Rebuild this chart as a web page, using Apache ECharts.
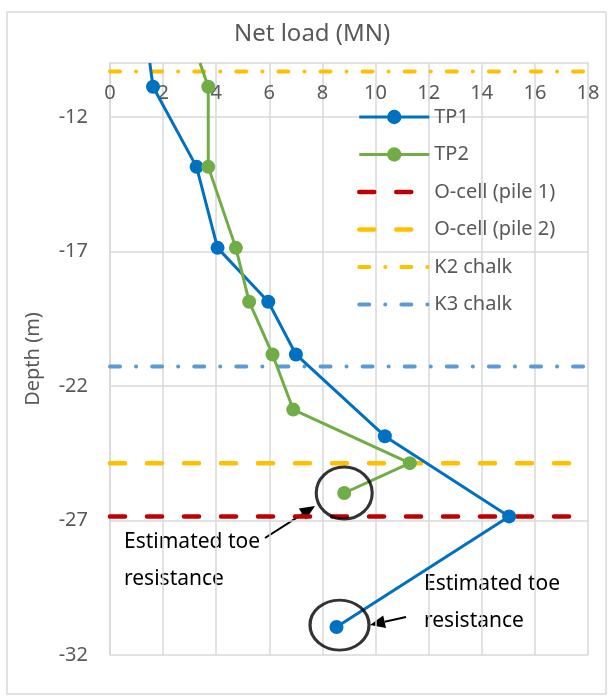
<!DOCTYPE html>
<html>
<head>
<meta charset="utf-8">
<script src="https://cdn.jsdelivr.net/npm/echarts@6/dist/echarts.min.js"></script>
<style>
  html, body { margin: 0; padding: 0; background: #fff; }
  #chart { width: 613px; height: 700px; }
</style>
</head>
<body>
<div id="chart"></div>
<script>
// test pile 1 / test pile 2: net load (MN) against depth (m)
const tp1Load = [1.5, 1.62, 3.26, 4.05, 5.96, 7.0, 10.35, 15.03, 8.53]
const tp1Depth = [-10.0, -10.88, -13.86, -16.87, -18.87, -20.83, -23.87, -26.85, -30.96]
const tp2Load = [3.39, 3.7, 3.7, 4.74, 5.24, 6.12, 6.9, 11.29, 8.82]
const tp2Depth = [-10.0, -10.88, -13.86, -16.87, -18.87, -20.83, -22.88, -24.87, -25.98]

// horizontal reference levels (m)
const levelNames = ['O-cell (pile 1)', 'O-cell (pile 2)', 'K2 chalk', 'K3 chalk']
const levelDepths = [-26.85, -24.87, -10.32, -21.28]

// estimated toe resistance points (circled)
const toeLoad = [8.82, 8.53]
const toeDepth = [-25.98, -30.96]

const xTicks = [0, 2, 4, 6, 8, 10, 12, 14, 16, 18]
const yTicks = [-32, -27, -22, -17, -12]

const FONT = 'Noto Sans'
const GREY = '#595959'
const GRID = '#D9D9D9'

const chart = echarts.init(document.getElementById('chart'))

const pairs = (xs, ys) => xs.map((x, i) => [x, ys[i]])

const levelStyles = [
  { color: '#C00000', width: 4.5, type: [15, 22] },
  { color: '#FFC000', width: 4.5, type: [15, 22] },
  { color: '#FFC000', width: 4, type: [10, 16, 0.1, 16] },
  { color: '#5B9BD5', width: 4, type: [10, 16, 0.1, 16] }
]

const levelSeries = levelNames.map((name, i) => ({
  name: name,
  type: 'line',
  symbol: 'none',
  data: [[xTicks[0], levelDepths[i]], [xTicks[xTicks.length - 1], levelDepths[i]]],
  lineStyle: {
    color: levelStyles[i].color,
    width: levelStyles[i].width,
    type: levelStyles[i].type,
    cap: 'round'
  },
  itemStyle: { color: levelStyles[i].color },
  z: 1
}))

// legend entries: markers only for the two test piles
const legendData = [
  { name: 'TP1', lineStyle: { width: 3 } },
  { name: 'TP2', lineStyle: { width: 3 } }
].concat(levelNames.map((name, i) => ({
  name: name,
  itemStyle: { opacity: 0 },
  lineStyle: { width: levelStyles[i].width, cap: 'round' }
})))

function arrow(x1, y1, x2, y2) {
  // tail (x1,y1) -> tip (x2,y2)
  const len = Math.hypot(x2 - x1, y2 - y1)
  const ux = (x2 - x1) / len
  const uy = (y2 - y1) / len
  const hl = 15
  const hw = 6.5
  const bx = x2 - ux * hl
  const by = y2 - uy * hl
  return [
    {
      type: 'line',
      shape: { x1: x1, y1: y1, x2: bx, y2: by },
      style: { stroke: '#000', lineWidth: 2 },
      silent: true
    },
    {
      type: 'polygon',
      shape: {
        points: [[x2, y2], [bx - uy * hw, by + ux * hw], [bx + uy * hw, by - ux * hw]]
      },
      style: { fill: '#000' },
      silent: true
    }
  ]
}

const option = {
  animation: false,
  backgroundColor: '#fff',
  title: {
    text: 'Net load (MN)',
    left: 229,
    top: 17,
    textStyle: { fontFamily: FONT, fontSize: 24, fontWeight: 'normal', color: GREY }
  },
  grid: { left: 110, right: 25, top: 63, bottom: 45 },
  legend: {
    data: legendData,
    orient: 'vertical',
    left: 352,
    top: 102,
    itemWidth: 70,
    itemHeight: 18,
    itemGap: 17.5,
    textStyle: { fontFamily: FONT, fontSize: 20, color: GREY, lineHeight: 20 }
  },
  xAxis: {
    type: 'value',
    position: 'top',
    min: 0,
    max: 18,
    interval: 2,
    axisLine: { show: true, lineStyle: { color: GRID, width: 1.5 } },
    axisTick: { show: false },
    axisLabel: {
      inside: true,
      margin: 20,
      fontFamily: FONT,
      fontSize: 20,
      color: GREY
    },
    splitLine: { show: true, lineStyle: { color: GRID, width: 1.5 } }
  },
  yAxis: {
    type: 'value',
    min: -32,
    max: -10,
    name: 'Depth (m)',
    nameLocation: 'middle',
    nameGap: 67,
    nameRotate: 90,
    nameTextStyle: { fontFamily: FONT, fontSize: 20, color: GREY },
    axisLine: { show: true, onZero: false, lineStyle: { color: GRID, width: 1.5 } },
    axisTick: { show: false, customValues: yTicks },
    axisLabel: {
      customValues: yTicks,
      margin: 22,
      fontFamily: FONT,
      fontSize: 20,
      color: GREY
    },
    splitLine: { show: true, lineStyle: { color: GRID, width: 1.5 } }
  },
  series: levelSeries.concat([
    {
      name: 'TP1',
      type: 'line',
      data: pairs(tp1Load, tp1Depth).map((p, i) => (i === 0 ? { value: p, symbol: 'none' } : p)),
      symbol: 'circle',
      symbolSize: 14,
      showAllSymbol: true,
      lineStyle: { color: '#0070C0', width: 3 },
      itemStyle: { color: '#0070C0' },
      z: 3
    },
    {
      name: 'TP2',
      type: 'line',
      data: pairs(tp2Load, tp2Depth).map((p, i) => (i === 0 ? { value: p, symbol: 'none' } : p)),
      symbol: 'circle',
      symbolSize: 14,
      showAllSymbol: true,
      lineStyle: { color: '#70AD47', width: 3 },
      itemStyle: { color: '#70AD47' },
      z: 3
    },
    {
      name: 'toe',
      type: 'scatter',
      data: pairs(toeLoad, toeDepth).map((p, i) => ({
        value: p,
        symbolSize: i ? [59, 50] : [56, 52],
        symbolOffset: i ? [3, -2] : [0, 0]
      })),
      symbol: 'circle',
      itemStyle: { color: 'rgba(0,0,0,0)', borderColor: '#000', borderWidth: 3 },
      silent: true,
      z: 4
    }
  ]),
  graphic: [
    {
      type: 'rect',
      shape: { x: 7, y: 12, width: 599, height: 682 },
      style: { fill: 'none', stroke: GRID, lineWidth: 1.5 },
      silent: true,
      z: -1
    },
    {
      type: 'text',
      left: 124,
      top: 524,
      style: { text: 'Estimated toe\nresistance', font: '21px "Noto Sans"', fill: '#000', lineHeight: 37 },
      silent: true
    },
    {
      type: 'text',
      left: 424,
      top: 566,
      style: { text: 'Estimated toe\nresistance', font: '21px "Noto Sans"', fill: '#000', lineHeight: 37 },
      silent: true
    }
  ].concat(arrow(265, 538, 315, 506), arrow(406, 617, 370, 625))
}

chart.setOption(option)
</script>
</body>
</html>
